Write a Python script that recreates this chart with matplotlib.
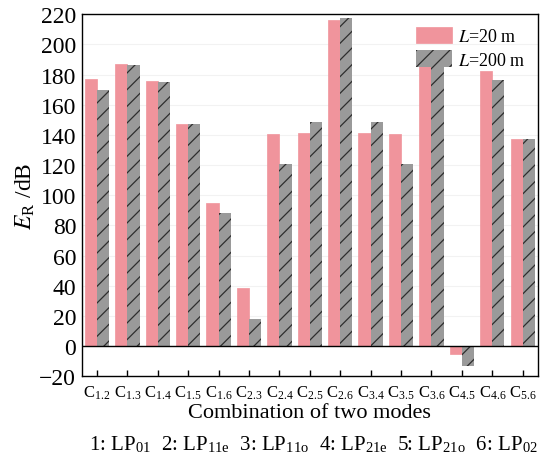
import numpy as np
import matplotlib
matplotlib.use('Agg')
import matplotlib.pyplot as plt

plt.rcParams['font.family'] = 'Liberation Serif'
plt.rcParams['mathtext.fontset'] = 'stix'
plt.rcParams['hatch.linewidth'] = 0.9

pairs = ['1.2', '1.3', '1.4', '1.5', '1.6', '2.3', '2.4', '2.5', '2.6',
         '3.4', '3.5', '3.6', '4.5', '4.6', '5.6']
er_20m = [177, 187, 176, 147, 94.5, 38.5, 140.5, 141, 216, 141, 140.5, 185.5, -5.5, 182, 137.5]
er_200m = [170, 186.5, 175, 147.5, 88.5, 18, 120.5, 148.5, 217.5, 148.5, 120.5, 188.5, -13.5, 176.5, 137.5]
mode_names = ['01', '11e', '11o', '21e', '21o', '02']

x = np.arange(len(pairs))
w = 0.4

fig = plt.figure(figsize=(5.45, 4.6), dpi=100)
ax = fig.add_axes([0.150, 0.180, 0.837, 0.787])

ax.bar(x - w, er_20m, w, align='edge', color='#f0949c', edgecolor='#f0949c', linewidth=0.5,
       label='$L$=20 m', zorder=3)
# edge colour sets the hatch colour, so keep the outline width at zero
ax.bar(x, er_200m, w, align='edge', facecolor='#9a9a9a', edgecolor='#2e2e2e', linewidth=0,
       hatch='//', label='$L$=200 m', zorder=3)
ax.axhline(0, color='black', lw=1.0, zorder=4)

ax.set_xlim(-0.5, len(pairs) - 0.5)
ax.set_ylim(-20, 220)
ax.set_yticks(np.arange(-20, 221, 20))
ax.set_xticks(x)
ax.set_xticklabels([r'C$_{\mathregular{%s}}$' % p for p in pairs], fontsize=12)
ax.tick_params(axis='x', direction='in', length=4, width=1, pad=5)
ax.tick_params(axis='y', length=0, labelsize=17, pad=4)
ax.grid(axis='y', color='#f2f2f2', lw=0.8, zorder=0)
for s in ax.spines.values():
    s.set_linewidth(1.0)

ax.set_ylabel(r'$E_{\mathregular{R}}$ /dB', fontsize=17, labelpad=2)
ax.set_xlabel('Combination of two modes', fontsize=16, labelpad=2)
fig.text(0.575, 0.022, '  '.join(r'%d: LP$_{\mathregular{%s}}$' % (i + 1, m) for i, m in enumerate(mode_names)),
         ha='center', fontsize=15)

ax.legend(loc='upper right', frameon=False, fontsize=13, handlelength=2.0, handleheight=1.0,
          borderaxespad=0.3, labelspacing=0.3, handletextpad=0.3)

fig.savefig('out.png', dpi=100)
